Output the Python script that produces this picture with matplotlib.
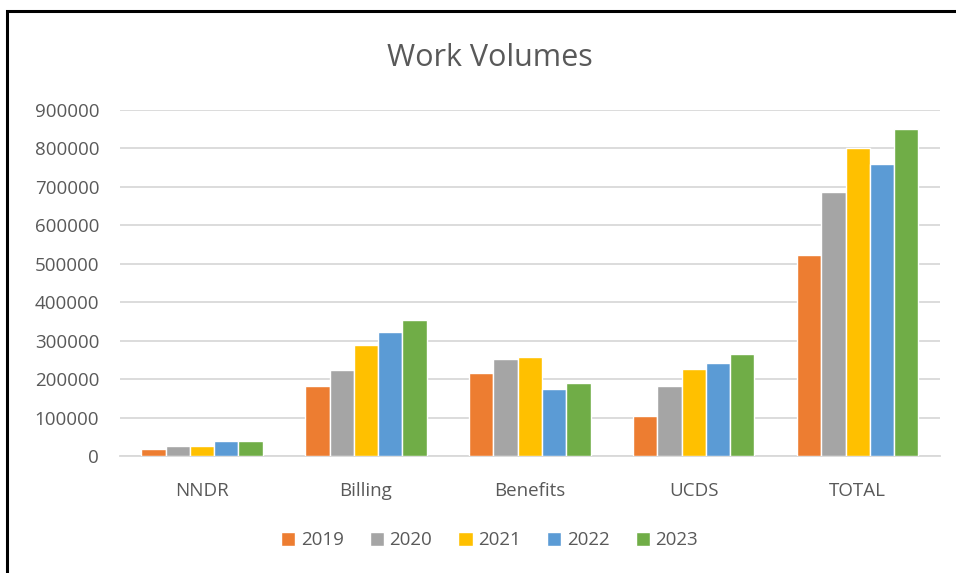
import numpy as np
import matplotlib
matplotlib.use('Agg')
import matplotlib.pyplot as plt
from matplotlib.patches import Rectangle

plt.rcParams['font.family'] = ['Open Sans', 'DejaVu Sans']

# Data
categories = ['NNDR', 'Billing', 'Benefits', 'UCDS', 'TOTAL']
years = ['2019', '2020', '2021', '2022', '2023']
v2019 = [19000, 183000, 216000, 103000, 523000]
v2020 = [26000, 223000, 252000, 183000, 687000]
v2021 = [26000, 290000, 257000, 225000, 800000]
v2022 = [39000, 323000, 173000, 243000, 760000]
v2023 = [39000, 353000, 190000, 265000, 851000]
series = [v2019, v2020, v2021, v2022, v2023]
colors = ['#ED7D31', '#A5A5A5', '#FFC000', '#5B9BD5', '#70AD47']

fig = plt.figure(figsize=(9.56, 5.73), dpi=100)
ax = fig.add_axes([0.1255, 0.2042, 0.8575, 0.6038])

x = np.arange(len(categories))
slot = 0.148
for i, (vals, col, yr) in enumerate(zip(series, colors, years)):
    offs = (i - 2) * slot
    ax.bar(x + offs, vals, width=slot, color=col, edgecolor='white',
           linewidth=1.0, label=yr, zorder=3)

ax.set_xlim(-0.5, len(categories) - 0.5)
ax.set_ylim(0, 900000)
ax.set_yticks(range(0, 900001, 100000))
ax.set_yticklabels([str(v) for v in range(0, 900001, 100000)])
ax.set_xticks(x)
ax.set_xticklabels(categories)
ax.grid(axis='y', color='#D9D9D9', linewidth=1.3, zorder=0)
for s in ['top', 'right', 'left']:
    ax.spines[s].set_visible(False)
ax.spines['bottom'].set_color('#D9D9D9')
ax.spines['bottom'].set_linewidth(1.3)
ax.tick_params(axis='both', length=0, labelsize=13.5, colors='#595959')
ax.tick_params(axis='y', pad=15)
ax.tick_params(axis='x', pad=19)

fig.text(0.512, 0.898, 'Work Volumes', ha='center', va='center',
         fontsize=22, color='#595959')

leg = fig.legend(loc='center', bbox_to_anchor=(0.512, 0.057), ncol=5,
                 frameon=False, fontsize=13.5, handlelength=0.75,
                 handleheight=0.75, handletextpad=0.3, columnspacing=1.4)
for t in leg.get_texts():
    t.set_color('#595959')

# border visible along the left and top edges
fig.patches.append(Rectangle((7 / 956, -0.1), 1.2, (573 - 11) / 573 + 0.1,
                             transform=fig.transFigure, fill=False,
                             edgecolor='black', linewidth=2.2))

fig.savefig('out.png', dpi=100, facecolor='white')
